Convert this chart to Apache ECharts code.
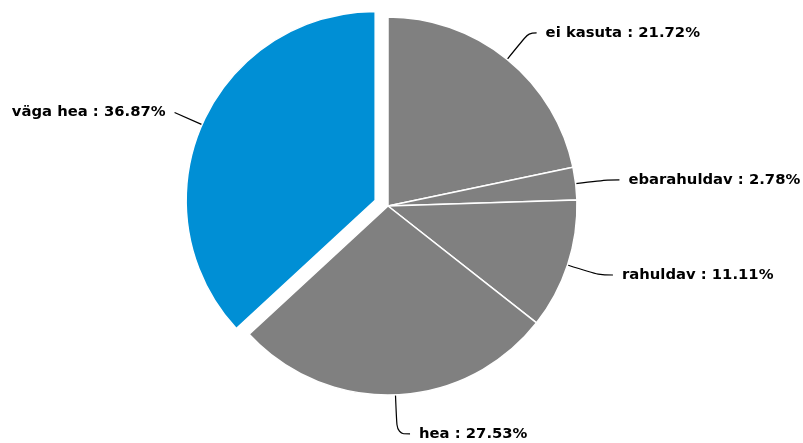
<!DOCTYPE html>
<html><head><meta charset="utf-8">
<script src="https://cdn.jsdelivr.net/npm/echarts@6/dist/echarts.min.js"></script>
<style>html,body{margin:0;padding:0;background:#fff}#c{width:803px;height:443px}</style>
</head><body><div id="c"></div>
<script>
const categories = ['ei kasuta', 'ebarahuldav', 'rahuldav', 'hea', 'väga hea'];
const values = [21.72, 2.78, 11.11, 27.53, 36.87];
const colors = ['#808080', '#808080', '#808080', '#808080', '#008fd5'];
const selectedIndex = 4;

// label-line styling per slice (lengths of the two segments)
const lineStyleLen = [[34, 8], [32, 12], [32, 15], [39, 13], [30, 0]];

const chart = echarts.init(document.getElementById('c'));
chart.setOption({
  animation: false,
  series: [{
    type: 'pie',
    center: [388, 206],
    radius: [0, 189],
    startAngle: 90,
    clockwise: true,
    selectedMode: 'single',
    selectedOffset: 14,
    avoidLabelOverlap: false,
    itemStyle: { borderColor: '#ffffff', borderWidth: 1.5 },
    label: {
      formatter: p => p.name + ' : ' + p.value.toFixed(2) + '%',
      fontFamily: 'DejaVu Sans',
      fontWeight: 'bold',
      fontSize: 14.8,
      color: '#000',
      distanceToLabelLine: 9
    },
    labelLine: { length: 32, length2: 8, smooth: 0.4, lineStyle: { color: '#000', width: 1.2 } },
    emphasis: { disabled: true },
    data: categories.map((n, i) => ({
      name: n, value: values[i], selected: i === selectedIndex,
      itemStyle: { color: colors[i] },
      labelLine: { length: lineStyleLen[i][0], length2: lineStyleLen[i][1] }
    }))
  }]
});
</script></body></html>
